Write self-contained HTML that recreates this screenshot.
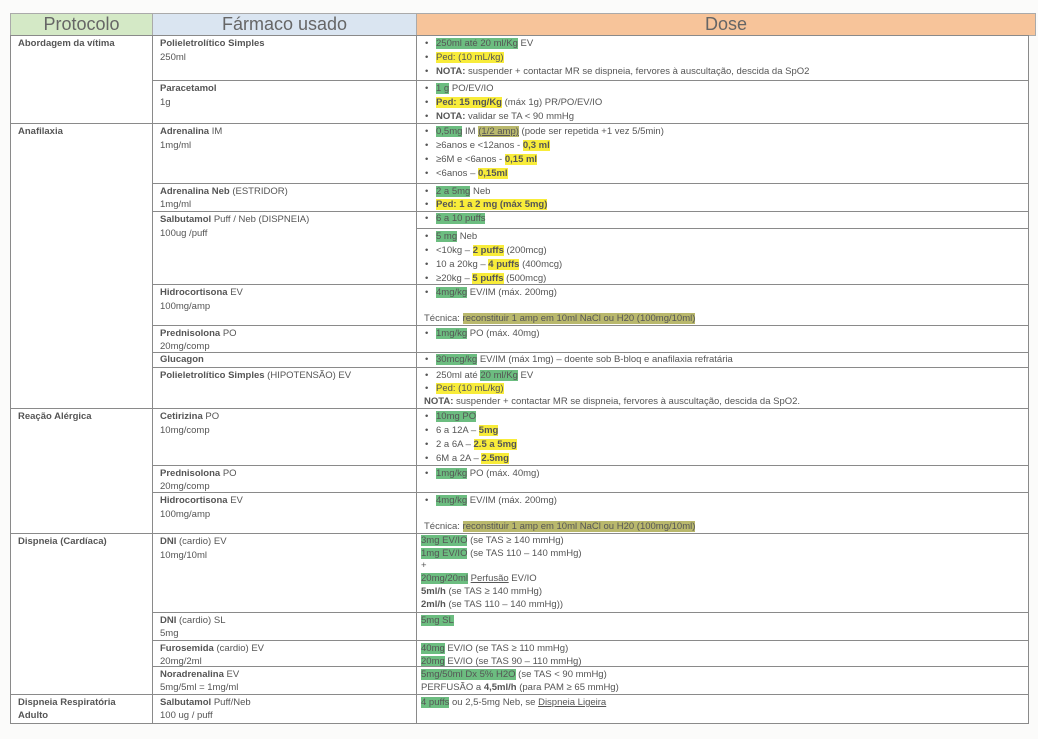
<!DOCTYPE html>
<html><head><meta charset="utf-8"><style>
body{margin:0;width:1038px;height:739px;background:#fbfbfa;overflow:hidden;font-family:"Liberation Sans",sans-serif;color:#555;}
.c{position:absolute;box-sizing:border-box;border:1px solid #8a8a8a;background:#fff;font-size:9.5px;line-height:14px;padding:1px 7px;}
.h{position:absolute;box-sizing:border-box;border:1px solid #aaa;font-size:18px;color:#666;text-align:center;line-height:21px;}
b{color:#555}
.g{background:#6cbd80;}
.y{background:#f8ec3a;}
.o{background:#b9b86c;}
.bl{padding-left:12px;position:relative}
.bl:before{content:"•";position:absolute;left:1px;}
u{text-decoration:underline}
</style></head><body>
<div class="h" style="left:10px;top:13px;width:143px;height:23px;background:#d4e9c6">Protocolo</div>
<div class="h" style="left:152px;top:13px;width:265px;height:23px;background:#dae5f1">Fármaco usado</div>
<div class="h" style="left:416px;top:13px;width:620px;height:23px;background:#f7c49a">Dose</div>

<div class="c" style="left:10px;top:35px;width:143px;height:89px"><b>Abordagem da vítima</b></div>
<div class="c" style="left:10px;top:123px;width:143px;height:286px"><b>Anafilaxia</b></div>
<div class="c" style="left:10px;top:408px;width:143px;height:126px"><b>Reação Alérgica</b></div>
<div class="c" style="left:10px;top:533px;width:143px;height:162px"><b>Dispneia (Cardíaca)</b></div>
<div class="c" style="left:10px;top:694px;width:143px;height:30px;line-height:13px"><b>Dispneia Respiratória<br>Adulto</b></div>

<div class="c" style="left:152px;top:35px;width:265px;height:46px"><b>Polieletrolítico Simples</b><br>250ml</div>
<div class="c" style="left:416px;top:35px;width:613px;height:46px"><div class="bl"><span class="g">250ml até 20 ml/Kg</span> EV</div><div class="bl"><span class="y">Ped: (10 mL/kg)</span></div><div class="bl"><b>NOTA:</b> suspender + contactar MR se dispneia, fervores à auscultação, descida da SpO2</div></div>

<div class="c" style="left:152px;top:80px;width:265px;height:44px"><b>Paracetamol</b><br>1g</div>
<div class="c" style="left:416px;top:80px;width:613px;height:44px"><div class="bl"><span class="g">1 g</span> PO/EV/IO</div><div class="bl"><b class="y">Ped: 15 mg/Kg</b> (máx 1g) PR/PO/EV/IO</div><div class="bl"><b>NOTA:</b> validar se TA &lt; 90 mmHg</div></div>

<div class="c" style="left:152px;top:123px;width:265px;height:61px"><b>Adrenalina</b> IM<br>1mg/ml</div>
<div class="c" style="left:416px;top:123px;width:613px;height:61px"><div class="bl"><span class="g">0,5mg</span> IM <u class="o">(1/2 amp)</u> (pode ser repetida +1 vez 5/5min)</div><div class="bl">≥6anos e &lt;12anos - <b class="y">0,3 ml</b></div><div class="bl">≥6M e &lt;6anos - <b class="y">0,15 ml</b></div><div class="bl">&lt;6anos – <b class="y">0,15ml</b></div></div>

<div class="c" style="left:152px;top:183px;width:265px;height:29px;line-height:13px"><b>Adrenalina Neb</b> (ESTRIDOR)<br>1mg/ml</div>
<div class="c" style="left:416px;top:183px;width:613px;height:29px;line-height:13px"><div class="bl"><span class="g">2 a 5mg</span> Neb</div><div class="bl"><b class="y">Ped: 1 a 2 mg (máx 5mg)</b></div></div>

<div class="c" style="left:152px;top:211px;width:265px;height:74px"><b>Salbutamol</b> Puff / Neb (DISPNEIA)<br>100ug /puff</div>
<div class="c" style="left:416px;top:211px;width:613px;height:18px;padding-top:0"><div class="bl"><span class="g">6 a 10 puffs</span></div></div>
<div class="c" style="left:416px;top:228px;width:613px;height:57px"><div class="bl"><span class="g">5 mg</span> Neb</div><div class="bl">&lt;10kg – <b class="y">2 puffs</b> (200mcg)</div><div class="bl">10 a 20kg – <b class="y">4 puffs</b> (400mcg)</div><div class="bl">≥20kg – <b class="y">5 puffs</b> (500mcg)</div></div>

<div class="c" style="left:152px;top:284px;width:265px;height:42px"><b>Hidrocortisona</b> EV<br>100mg/amp</div>
<div class="c" style="left:416px;top:284px;width:613px;height:42px"><div class="bl"><span class="g">4mg/kg</span> EV/IM (máx. 200mg)</div><div style="margin-top:12px">Técnica: <span class="o">reconstituir 1 amp em 10ml NaCl ou H20 (100mg/10ml)</span></div></div>

<div class="c" style="left:152px;top:325px;width:265px;height:28px;line-height:13px"><b>Prednisolona</b> PO<br>20mg/comp</div>
<div class="c" style="left:416px;top:325px;width:613px;height:28px"><div class="bl"><span class="g">1mg/kg</span> PO (máx. 40mg)</div></div>

<div class="c" style="left:152px;top:352px;width:265px;height:16px;padding-top:0"><b>Glucagon</b></div>
<div class="c" style="left:416px;top:352px;width:613px;height:16px;padding-top:0"><div class="bl"><span class="g">30mcg/kg</span> EV/IM (máx 1mg) – doente sob B-bloq e anafilaxia refratária</div></div>

<div class="c" style="left:152px;top:367px;width:265px;height:42px"><b>Polieletrolítico Simples</b> (HIPOTENSÃO) EV</div>
<div class="c" style="left:416px;top:367px;width:613px;height:42px;line-height:13px"><div class="bl">250ml até <span class="g">20 ml/Kg</span> EV</div><div class="bl"><span class="y">Ped: (10 mL/kg)</span></div><div><b>NOTA:</b> suspender + contactar MR se dispneia, fervores à auscultação, descida da SpO2.</div></div>

<div class="c" style="left:152px;top:408px;width:265px;height:58px"><b>Cetirizina</b> PO<br>10mg/comp</div>
<div class="c" style="left:416px;top:408px;width:613px;height:58px"><div class="bl"><span class="g">10mg PO</span></div><div class="bl">6 a 12A – <b class="y">5mg</b></div><div class="bl">2 a 6A – <b class="y">2.5 a 5mg</b></div><div class="bl">6M a 2A – <b class="y">2.5mg</b></div></div>

<div class="c" style="left:152px;top:465px;width:265px;height:28px;line-height:13px"><b>Prednisolona</b> PO<br>20mg/comp</div>
<div class="c" style="left:416px;top:465px;width:613px;height:28px"><div class="bl"><span class="g">1mg/kg</span> PO (máx. 40mg)</div></div>

<div class="c" style="left:152px;top:492px;width:265px;height:42px"><b>Hidrocortisona</b> EV<br>100mg/amp</div>
<div class="c" style="left:416px;top:492px;width:613px;height:42px"><div class="bl"><span class="g">4mg/kg</span> EV/IM (máx. 200mg)</div><div style="margin-top:12px">Técnica: <span class="o">reconstituir 1 amp em 10ml NaCl ou H20 (100mg/10ml)</span></div></div>

<div class="c" style="left:152px;top:533px;width:265px;height:80px"><b>DNI</b> (cardio) EV<br>10mg/10ml</div>
<div class="c" style="left:416px;top:533px;width:613px;height:80px;line-height:12.7px;padding-left:4px"><span class="g">3mg EV/IO</span> (se TAS ≥ 140 mmHg)<br><span class="g">1mg EV/IO</span> (se TAS 110 – 140 mmHg)<br>+<br><span class="g">20mg/20ml</span> <u>Perfusão</u> EV/IO<br><b>5ml/h</b> (se TAS ≥ 140 mmHg)<br><b>2ml/h</b> (se TAS 110 – 140 mmHg))</div>

<div class="c" style="left:152px;top:612px;width:265px;height:29px;line-height:13px"><b>DNI</b> (cardio) SL<br>5mg</div>
<div class="c" style="left:416px;top:612px;width:613px;height:29px;padding-left:4px"><span class="g">5mg SL</span></div>

<div class="c" style="left:152px;top:640px;width:265px;height:27px;line-height:13px"><b>Furosemida</b> (cardio) EV<br>20mg/2ml</div>
<div class="c" style="left:416px;top:640px;width:613px;height:27px;line-height:13px;padding-left:4px"><span class="g">40mg</span> EV/IO (se TAS ≥ 110 mmHg)<br><span class="g">20mg</span> EV/IO (se TAS 90 – 110 mmHg)</div>

<div class="c" style="left:152px;top:666px;width:265px;height:29px;line-height:13px"><b>Noradrenalina</b> EV<br>5mg/5ml = 1mg/ml</div>
<div class="c" style="left:416px;top:666px;width:613px;height:29px;line-height:13px;padding-left:4px"><span class="g">5mg/50ml Dx 5% H2O</span> (se TAS &lt; 90 mmHg)<br>PERFUSÃO a <b>4,5ml/h</b> (para PAM ≥ 65 mmHg)</div>

<div class="c" style="left:152px;top:694px;width:265px;height:30px;line-height:13px"><b>Salbutamol</b> Puff/Neb<br>100 ug / puff</div>
<div class="c" style="left:416px;top:694px;width:613px;height:30px;line-height:13px;padding-left:4px"><span class="g">4 puffs</span> ou 2,5-5mg Neb, se <u>Dispneia Ligeira</u></div>
</body></html>
